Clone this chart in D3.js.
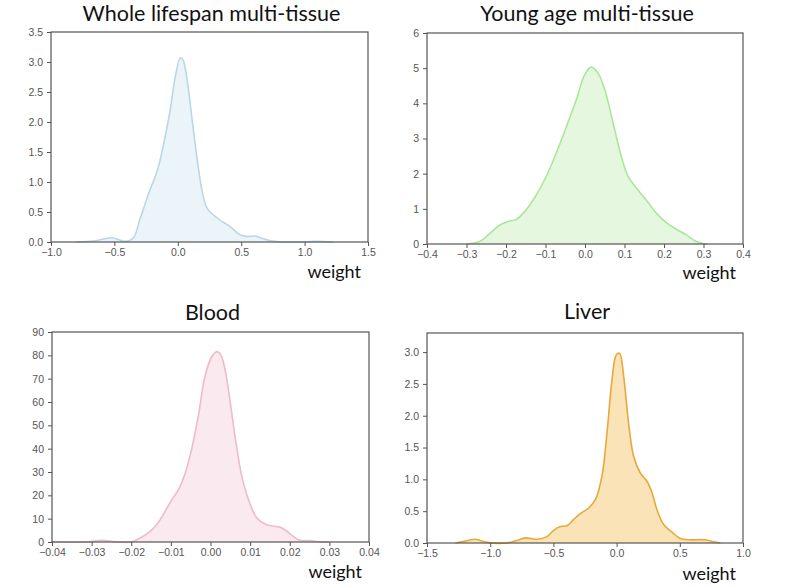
<!DOCTYPE html>
<html lang="en">
<head>
<meta charset="utf-8">
<script src="https://cdn.jsdelivr.net/npm/d3@7"></script>
<style>
  body { margin: 0; background: #fff; }
  .axis text { font-family: "Liberation Sans", Arial, sans-serif; font-size: 10.5px; fill: #555; }
  .axis path, .axis line { stroke: #555; }
  .title { font-family: Lato, sans-serif; font-size: 21.5px; fill: #111; }
  .xlab { font-family: Lato, sans-serif; font-size: 18px; fill: #111; }
</style>
</head>
<body>
<script>
// values (weight, density)
var wholeX = [-0.8, -0.65, -0.52, -0.41, -0.35, -0.3, -0.23, -0.16, -0.11, -0.06, -0.02, 0.02, 0.04, 0.07, 0.11, 0.15, 0.19, 0.23, 0.31, 0.41, 0.49, 0.55, 0.61, 0.68, 0.76, 0.82, 0.95, 1.1, 1.23];
var wholeY = [0, 0.02, 0.07, 0.01, 0.07, 0.37, 0.81, 1.2, 1.65, 2.2, 2.75, 3.07, 3.04, 2.75, 2.09, 1.42, 0.87, 0.57, 0.40, 0.26, 0.12, 0.09, 0.10, 0.05, 0.01, 0, 0, 0.01, 0];

var youngX = [-0.30, -0.267, -0.241, -0.216, -0.195, -0.174, -0.149, -0.123, -0.098, -0.073, -0.047, -0.022, -0.001, 0.016, 0.033, 0.050, 0.071, 0.092, 0.109, 0.130, 0.155, 0.181, 0.206, 0.231, 0.257, 0.278, 0.299, 0.31];
var youngY = [0, 0.07, 0.30, 0.54, 0.64, 0.70, 0.97, 1.40, 1.92, 2.58, 3.34, 4.10, 4.81, 5.03, 4.86, 4.39, 3.44, 2.49, 1.92, 1.59, 1.25, 0.87, 0.61, 0.42, 0.26, 0.09, 0.01, 0];

var bloodX = [-0.04, -0.031, -0.0275, -0.024, -0.020, -0.0178, -0.0157, -0.0136, -0.0115, -0.0098, -0.0081, -0.0064, -0.0048, -0.0031, -0.0014, 0.0003, 0.0016, 0.0026, 0.0037, 0.0049, 0.0062, 0.0079, 0.0096, 0.0117, 0.0142, 0.0176, 0.0193, 0.0209, 0.0226, 0.0252, 0.0277, 0.03];
var bloodY = [0, 0, 0.7, 0.1, 0, 1.7, 3.9, 7.4, 13, 18, 22.4, 29.5, 39.5, 53.8, 70.9, 79.4, 81.6, 80.2, 73.7, 60.9, 45.2, 28.1, 18.1, 10.3, 7.4, 6.3, 4.6, 2.4, 0.7, 0.6, 0, 0];

var liverX = [-1.275, -1.197, -1.118, -1.026, -0.868, -0.789, -0.722, -0.630, -0.551, -0.498, -0.445, -0.393, -0.340, -0.287, -0.221, -0.168, -0.116, -0.076, -0.036, -0.002, 0.024, 0.056, 0.095, 0.135, 0.188, 0.240, 0.280, 0.320, 0.372, 0.438, 0.504, 0.584, 0.702, 0.768, 0.821];
var liverY = [0, 0.03, 0.06, 0.01, 0, 0.04, 0.08, 0.06, 0.10, 0.20, 0.26, 0.27, 0.37, 0.46, 0.55, 0.68, 1.05, 1.73, 2.57, 2.96, 2.98, 2.62, 1.88, 1.36, 1.10, 0.97, 0.79, 0.52, 0.29, 0.17, 0.07, 0.05, 0.05, 0.02, 0];

var titles = ["Whole lifespan multi-tissue", "Young age multi-tissue", "Blood", "Liver"];
var xDomains = [[-1, 1.5], [-0.4, 0.4], [-0.04, 0.04], [-1.5, 1.0]];
var yDomains = [[0, 3.5], [0, 6], [0, 90], [0, 3.3]];
var xTicks = [[-1, -0.5, 0, 0.5, 1, 1.5], [-0.4, -0.3, -0.2, -0.1, 0, 0.1, 0.2, 0.3, 0.4], [-0.04, -0.03, -0.02, -0.01, 0, 0.01, 0.02, 0.03, 0.04], [-1.5, -1, -0.5, 0, 0.5, 1]];
var yTicks = [[0, 0.5, 1, 1.5, 2, 2.5, 3, 3.5], [0, 1, 2, 3, 4, 5, 6], [0, 10, 20, 30, 40, 50, 60, 70, 80, 90], [0, 0.5, 1, 1.5, 2, 2.5, 3]];
var xFormats = [".1f", ".1f", ".2f", ".1f"];
var yFormats = [".1f", "d", "d", ".1f"];
var series = [[wholeX, wholeY], [youngX, youngY], [bloodX, bloodY], [liverX, liverY]];
var strokes = ["#bcd7e4", "#abe69c", "#edbcc7", "#e7a93c"];
var fills = ["#eaf4f9", "#e5f8df", "#fae9ee", "#f9e3b7"];

// layout of each axes box
var boxes = [
  {left: 51, top: 32, width: 317, height: 210, titleY: 21, labY: 278},
  {left: 427, top: 33, width: 316, height: 211, titleY: 21, labY: 279},
  {left: 52, top: 332, width: 317, height: 210, titleY: 320, labY: 578},
  {left: 427, top: 333, width: 316, height: 210, titleY: 319, labY: 580}
];

var svg = d3.select("body").append("svg")
  .attr("width", 787)
  .attr("height", 587);

boxes.forEach(function(b, i) {
  var x = d3.scaleLinear().domain(xDomains[i]).range([0, b.width]);
  var y = d3.scaleLinear().domain(yDomains[i]).range([b.height, 0]);

  var g = svg.append("g")
    .attr("transform", "translate(" + b.left + "," + b.top + ")");

  var pts = series[i][0].map(function(v, k) { return [v, series[i][1][k]]; });

  var area = d3.area()
    .x(function(d) { return x(d[0]); })
    .y0(y(0))
    .y1(function(d) { return y(d[1]); })
    .curve(d3.curveCatmullRom);
  var line = d3.line()
    .x(function(d) { return x(d[0]); })
    .y(function(d) { return y(d[1]); })
    .curve(d3.curveCatmullRom);

  g.append("path").datum(pts)
    .attr("d", area)
    .attr("fill", fills[i]);
  g.append("path").datum(pts)
    .attr("d", line)
    .attr("fill", "none")
    .attr("stroke", strokes[i])
    .attr("stroke-width", 1.6);

  // frame
  g.append("rect")
    .attr("width", b.width)
    .attr("height", b.height)
    .attr("fill", "none")
    .attr("stroke", "#555")
    .attr("stroke-width", 1.2);

  g.append("g").attr("class", "axis")
    .attr("transform", "translate(0," + b.height + ")")
    .call(d3.axisBottom(x).tickValues(xTicks[i]).tickFormat(d3.format(xFormats[i])).tickSizeInner(4).tickSizeOuter(0).tickPadding(3))
    .call(function(a) { a.select(".domain").remove(); });

  g.append("g").attr("class", "axis")
    .call(d3.axisLeft(y).tickValues(yTicks[i]).tickFormat(d3.format(yFormats[i])).tickSizeInner(4).tickSizeOuter(0).tickPadding(4))
    .call(function(a) { a.select(".domain").remove(); });

  svg.append("text").attr("class", "title")
    .attr("x", b.left + b.width / 2 + 2)
    .attr("y", b.titleY)
    .attr("text-anchor", "middle")
    .text(titles[i]);

  svg.append("text").attr("class", "xlab")
    .attr("x", b.left + b.width - 7)
    .attr("y", b.labY)
    .attr("text-anchor", "end")
    .text("weight");
});
</script>
</body>
</html>
